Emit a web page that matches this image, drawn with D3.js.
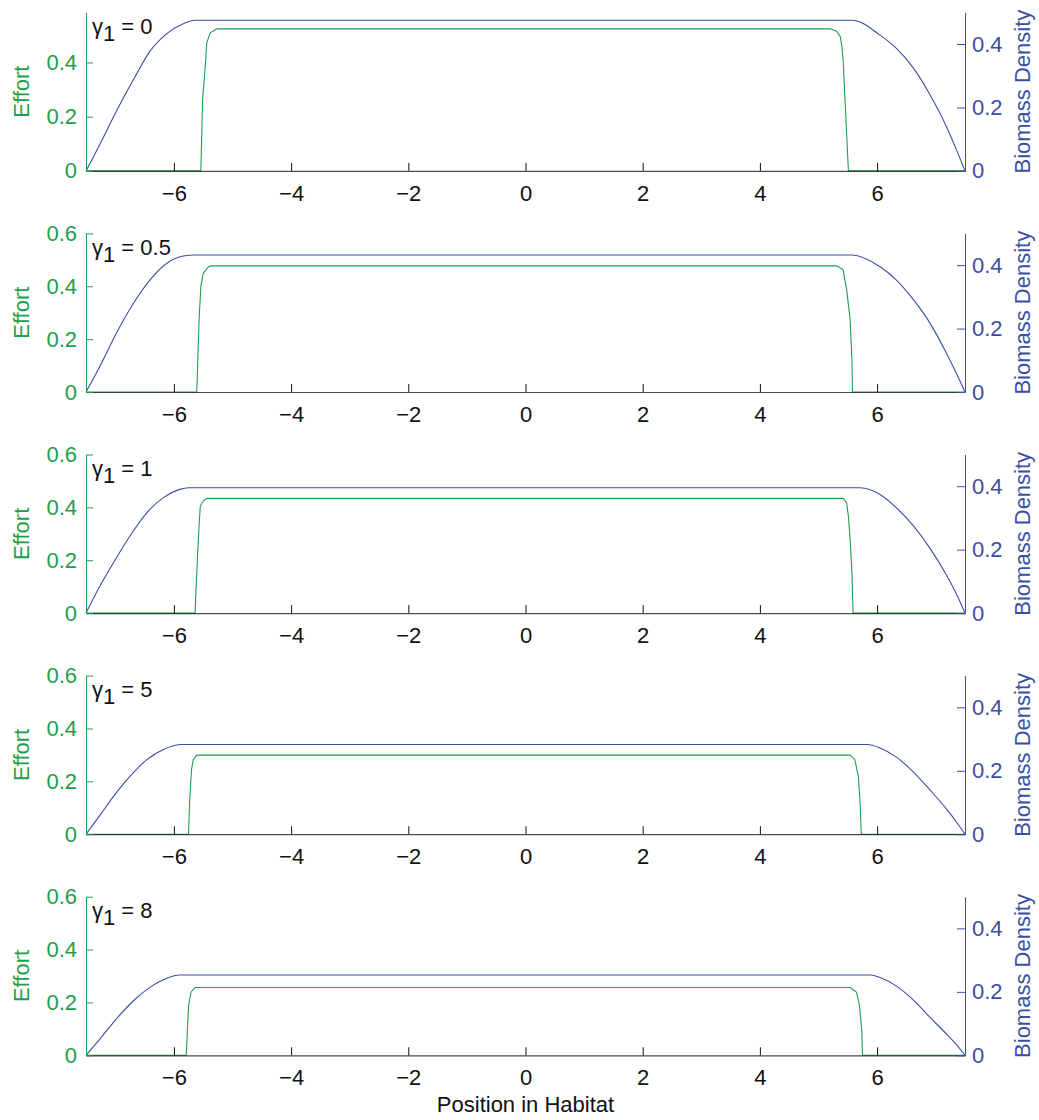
<!DOCTYPE html>
<html>
<head>
<meta charset="utf-8">
<script src="https://cdn.jsdelivr.net/npm/d3@7"></script>
<style>
  html, body { margin: 0; padding: 0; background: #fff; }
  svg text { font-family: "Liberation Sans", Arial, Helvetica, sans-serif; }
</style>
</head>
<body>
<div id="chart"></div>
<script>
// ---------------- data ----------------
const xDomain = [-7.5, 7.5];
const xTicks = [-6, -4, -2, 0, 2, 4, 6];
const gammaValues = ["0", "0.5", "1", "5", "8"];
const effortMax = [0.585, 0.6, 0.6, 0.6, 0.6];
const effortTicks = [[0, 0.2, 0.4], [0, 0.2, 0.4, 0.6], [0, 0.2, 0.4, 0.6], [0, 0.2, 0.4, 0.6], [0, 0.2, 0.4, 0.6]];
const biomassMax = 0.5;
const biomassTicks = [0, 0.2, 0.4];

// Biomass density (right axis) : [position, value]
const biomass1 = [[-7.5,0],[-7.26,0.085],[-6.98,0.189],[-6.69,0.288],[-6.41,0.377],[-6.12,0.433],[-5.84,0.464],[-5.64,0.475],
  [5.57,0.475],[6.05,0.428],[6.33,0.386],[6.62,0.324],[6.90,0.241],[7.19,0.137],[7.36,0.064],[7.5,0]];
const biomass2 = [[-7.5,0],[-7.26,0.082],[-6.98,0.186],[-6.69,0.280],[-6.41,0.353],[-6.12,0.406],[-5.84,0.429],[-5.64,0.432],
  [5.57,0.432],[6.05,0.395],[6.33,0.353],[6.62,0.291],[6.90,0.218],[7.19,0.120],[7.36,0.056],[7.5,0]];
const biomass3 = [[-7.5,0],[-7.26,0.086],[-7.03,0.159],[-6.75,0.243],[-6.46,0.317],[-6.18,0.364],[-5.90,0.390],[-5.75,0.395],
  [5.71,0.395],[6.05,0.374],[6.33,0.332],[6.62,0.275],[6.90,0.205],[7.19,0.118],[7.36,0.058],[7.5,0]];
const biomass4 = [[-7.5,0],[-7.26,0.060],[-7.03,0.119],[-6.75,0.182],[-6.46,0.235],[-6.18,0.267],[-5.87,0.283],
  [5.83,0.283],[6.05,0.272],[6.33,0.243],[6.62,0.196],[6.90,0.140],[7.19,0.078],[7.36,0.037],[7.5,0]];
const biomass5 = [[-7.5,0],[-7.26,0.052],[-6.98,0.115],[-6.69,0.172],[-6.41,0.214],[-6.12,0.243],[-5.90,0.253],
  [5.89,0.253],[6.05,0.245],[6.33,0.218],[6.62,0.174],[6.90,0.120],[7.19,0.066],[7.36,0.032],[7.5,0]];

// Effort (left axis) : [position, value]
const effort1 = [[-7.5,0],[-5.54,0],[-5.51,0.262],[-5.46,0.399],[-5.44,0.472],[-5.38,0.509],[-5.27,0.524],
  [5.20,0.524],[5.31,0.515],[5.37,0.496],[5.40,0.459],[5.42,0.41],[5.45,0.274],[5.48,0.139],[5.51,0],[7.5,0]];
const effort2 = [[-7.5,0],[-5.61,0],[-5.57,0.274],[-5.54,0.399],[-5.50,0.449],[-5.41,0.474],[-5.36,0.477],
  [5.30,0.477],[5.34,0.474],[5.42,0.462],[5.48,0.387],[5.54,0.274],[5.57,0.123],[5.58,0],[7.5,0]];
const effort3 = [[-7.5,0],[-5.64,0],[-5.61,0.154],[-5.58,0.292],[-5.55,0.405],[-5.50,0.424],[-5.44,0.434],
  [5.42,0.434],[5.48,0.418],[5.51,0.367],[5.54,0.279],[5.57,0.154],[5.59,0],[7.5,0]];
const effort4 = [[-7.5,0],[-5.75,0],[-5.73,0.130],[-5.70,0.244],[-5.67,0.282],[-5.61,0.299],
  [5.54,0.299],[5.62,0.282],[5.68,0.219],[5.71,0.117],[5.73,0],[7.5,0]];
const effort5 = [[-7.5,0],[-5.79,0],[-5.77,0.088],[-5.75,0.1875],[-5.71,0.238],[-5.64,0.2565],
  [5.54,0.2565],[5.65,0.238],[5.70,0.1875],[5.74,0.088],[5.75,0],[7.5,0]];

const biomassSeries = [biomass1, biomass2, biomass3, biomass4, biomass5];
const effortSeries = [effort1, effort2, effort3, effort4, effort5];

// ---------------- layout ----------------
const W = 1039, H = 1120;
const left = 86, right = 965;
const panelTop0 = 12.3, panelStep = 221.1, panelH = 158.6;
const GREEN = "#1f9e4c", BLUE = "#3a4fa3", BLACK = "#111";
const FS = 22;
const FONT = "Liberation Sans, Arial, sans-serif";

const svg = d3.select("#chart").append("svg").attr("width", W).attr("height", H);
const x = d3.scaleLinear().domain(xDomain).range([left, right]);

gammaValues.forEach((g, i) => {
  const top = panelTop0 + i * panelStep;
  const bottom = top + panelH;
  const yE = d3.scaleLinear().domain([0, effortMax[i]]).range([bottom, top]);
  const yB = d3.scaleLinear().domain([0, biomassMax]).range([bottom, top]);
  const gp = svg.append("g");

  // lines
  const lineE = d3.line().x(d => x(d[0])).y(d => yE(d[1]));
  const lineB = d3.line().x(d => x(d[0])).y(d => yB(d[1])).curve(d3.curveMonotoneX);
  gp.append("path").datum(biomassSeries[i]).attr("d", lineB)
    .attr("fill", "none").attr("stroke", BLUE).attr("stroke-width", 1.1);
  gp.append("path").datum(effortSeries[i]).attr("d", lineE)
    .attr("fill", "none").attr("stroke", GREEN).attr("stroke-width", 1.1);

  // x axis
  const xAxis = d3.axisBottom(x).tickValues(xTicks).tickSizeInner(-8).tickSizeOuter(0).tickPadding(14)
    .tickFormat(d3.format("d"));
  const gx = gp.append("g").attr("transform", `translate(0,${bottom})`).call(xAxis);
  gx.select(".domain").attr("stroke", BLACK).attr("stroke-opacity", 0.75).attr("stroke-width", 1.2);
  gx.selectAll(".tick line").attr("stroke", BLACK);
  gx.selectAll(".tick text").attr("fill", BLACK).attr("font-size", FS).attr("font-family", FONT);

  // left axis (effort)
  const yAxisL = d3.axisLeft(yE).tickValues(effortTicks[i]).tickSizeInner(-7).tickSizeOuter(0).tickPadding(9)
    .tickFormat(d => String(d));
  const gl = gp.append("g").attr("transform", `translate(${left},0)`).call(yAxisL);
  gl.select(".domain").attr("stroke", GREEN);
  gl.selectAll(".tick line").attr("stroke", GREEN);
  gl.selectAll(".tick text").attr("fill", GREEN).attr("font-size", FS).attr("font-family", FONT);

  // right axis (biomass)
  const yAxisR = d3.axisRight(yB).tickValues(biomassTicks).tickSizeInner(-8).tickSizeOuter(0).tickPadding(7)
    .tickFormat(d => String(d));
  const gr = gp.append("g").attr("transform", `translate(${right},0)`).call(yAxisR);
  gr.select(".domain").attr("stroke", BLUE);
  gr.selectAll(".tick line").attr("stroke", BLUE);
  gr.selectAll(".tick text").attr("fill", BLUE).attr("font-size", FS).attr("font-family", FONT);

  const mid = (top + bottom) / 2;
  gp.append("text").attr("transform", `translate(${29},${mid}) rotate(-90)`)
    .attr("text-anchor", "middle").attr("fill", GREEN).attr("font-size", FS).text("Effort");
  gp.append("text").attr("transform", `translate(${1030},${mid}) rotate(-90)`)
    .attr("text-anchor", "middle").attr("fill", BLUE).attr("font-size", FS).text("Biomass Density");

  // gamma label
  const t = gp.append("text").attr("x", 92).attr("y", top + 21.5).attr("fill", BLACK).attr("font-size", FS);
  t.append("tspan").text("γ");
  t.append("tspan").attr("dy", 7).text("1");
  t.append("tspan").attr("dy", -7).text(" = " + g);
});

svg.append("text").attr("x", (left + right) / 2).attr("y", 1112).attr("text-anchor", "middle")
  .attr("fill", BLACK).attr("font-size", FS).text("Position in Habitat");
</script>
</body>
</html>
